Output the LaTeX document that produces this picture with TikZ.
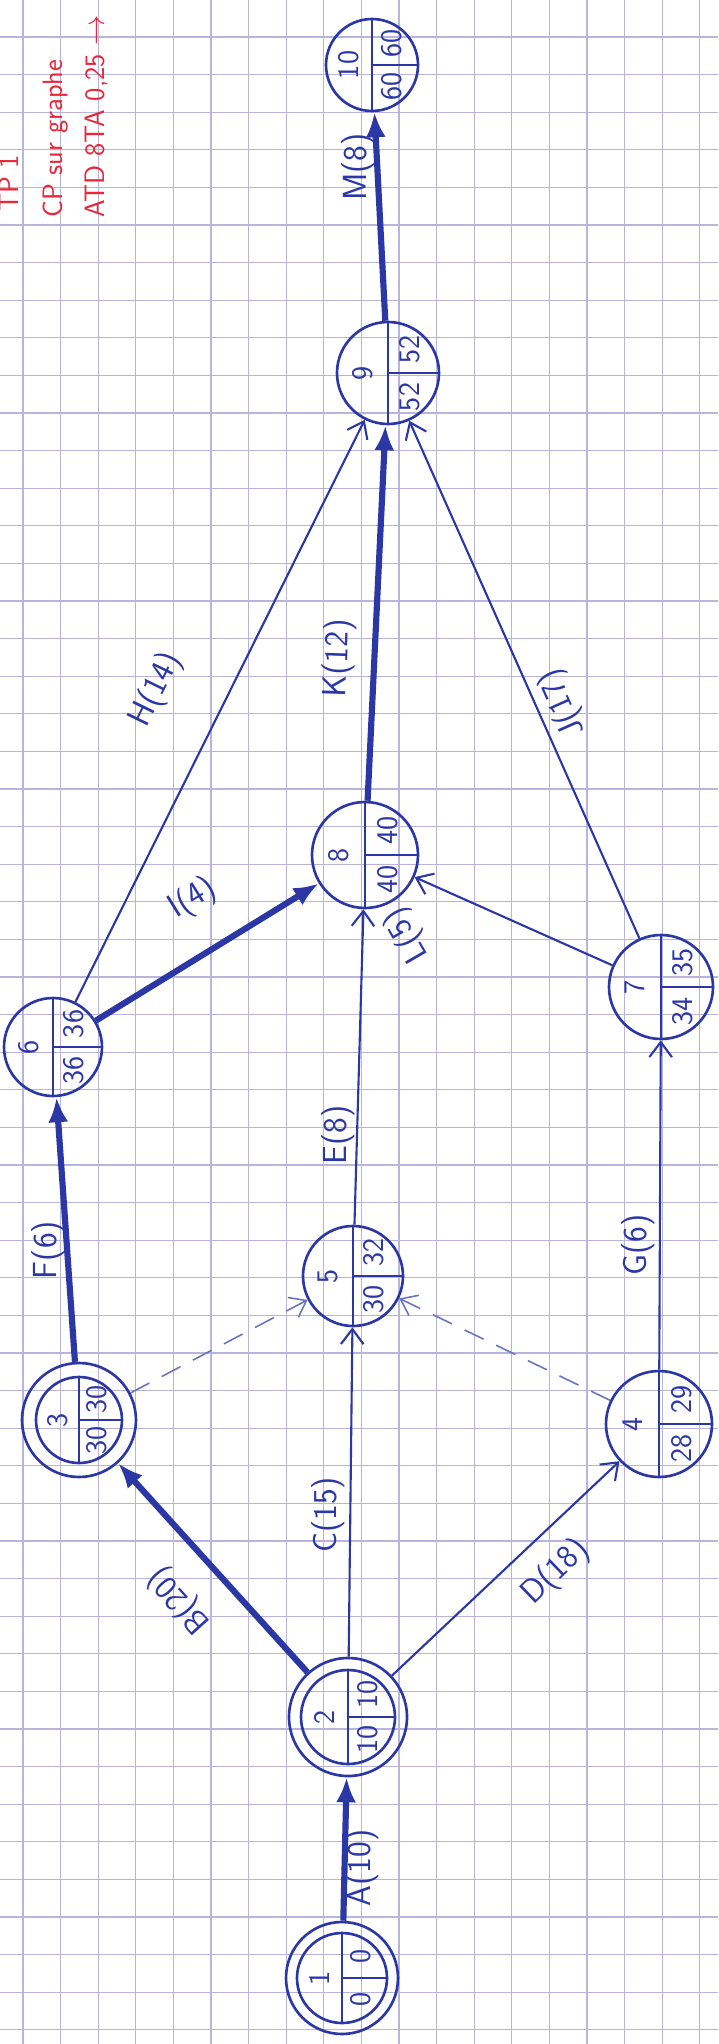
\documentclass[tikz,border=0pt]{standalone}
\usepackage{tikz}
\usetikzlibrary{arrows.meta,calc}
\definecolor{PenBlue}{HTML}{2C37A6}
\definecolor{PenRed}{HTML}{E8283A}
\definecolor{GridLilac}{HTML}{B8B4DC}

\begin{document}
\begin{tikzpicture}[x=0.2mm, y=-0.2mm,
  evt/.style={circle, draw=PenBlue, line width=1.5pt, inner sep=0pt},
  ring/.style={circle, draw=PenBlue, line width=1.5pt, inner sep=0pt},
  val/.style={text=PenBlue, rotate=90, font=\sffamily\fontsize{17}{17}\selectfont, inner sep=0pt},
  lbl/.style={text=PenBlue, font=\sffamily\fontsize{19}{19}\selectfont, inner sep=1pt},
  act/.style={-{Straight Barb[length=3mm,width=4.5mm]}, PenBlue, line width=1.2pt},
  crit/.style={-{Latex[length=5mm,width=4mm]}, PenBlue, line width=3.5pt},
  dum/.style={-{Straight Barb[length=3mm,width=4.5mm]}, PenBlue!70, line width=0.9pt, dash pattern=on 12pt off 8pt},
  note/.style={text=PenRed, rotate=90, anchor=west, font=\sffamily\fontsize{16}{16}\selectfont}
]
% paper
\fill[white] (0,0) rectangle (718,2044);
\useasboundingbox (0,0) rectangle (718,2044);
\foreach \i [evaluate=\i as \gx using 23+37.6*\i] in {0,...,18}
  \draw[GridLilac, line width=0.7pt] (\gx,0) -- (\gx,2044);
\foreach \i [evaluate=\i as \gy using 37+37.6*\i] in {0,...,53}
  \draw[GridLilac, line width=0.7pt] (0,\gy) -- (718,\gy);

% red notes
\node[note] (tp) at (9,218) {TP 1};
\node[note] (cp) at (56,224) {CP sur graphe};
\node[note] (atd) at (96,224) {ATD 8TA 0,25 $\to$};

% events: number / latest / earliest
\foreach \n/\x/\y/\r/\lf/\es in {1/342/1978/45/0/0, 2/348/1717/47/10/10, 3/79/1420/43/30/30,
    4/659/1424/53/29/28, 5/353/1276/50/32/30, 6/53/1047/49/36/36, 7/661/987/52/35/34,
    8/365/855/53/40/40, 9/388/373/51/52/52, 10/372/65/46/60/60} {
  \node[evt, minimum size=\r*0.4mm] (n\n) at (\x,\y) {};
  \draw[PenBlue, line width=1.5pt] (n\n.north) -- (n\n.south) (n\n.center) -- (n\n.east);
  \node[val] (n\n id) at ($(n\n)+(-0.5*\r,0)$) {\n};
  \node[val] (n\n lf) at ($(n\n)+(0.42*\r,-0.47*\r)$) {\lf};
  \node[val] (n\n es) at ($(n\n)+(0.42*\r,0.47*\r)$) {\es};
}
\node[ring, minimum size=22.4mm] (n1r) at (n1) {};
\node[ring, minimum size=23.6mm] (n2r) at (n2) {};
\node[ring, minimum size=22.8mm] (n3r) at (n3) {};

% activities
\draw[crit] (n1r) -- (n2r);
\draw[crit] (n2r) -- (n3r);
\draw[act] (n2r) -- (n5);
\draw[act] (n2r) -- (n4);
\draw[dum] (n3r) -- (n5);
\draw[dum] (n4) -- (n5);
\draw[crit] (n3r) -- (n6);
\draw[act] (n5) -- (n8);
\draw[act] (n4) -- (n7);
\draw[crit] (n6) -- (n8);
\draw[act] (n6) -- (n9);
\draw[act] (n7) -- (n8);
\draw[act] (n7) -- (n9);
\draw[crit] (n8) -- (n9);
\draw[crit] (n9) -- (n10);

% activity labels
\node[lbl, rotate=90] (lA) at (362,1868) {A(10)};
\node[lbl, rotate=132] (lB) at (180,1600) {B(20)};
\node[lbl, rotate=90] (lC) at (328,1515) {C(15)};
\node[lbl, rotate=44] (lD) at (556,1572) {D(18)};
\node[lbl, rotate=90] (lE) at (338,1135) {E(8)};
\node[lbl, rotate=90] (lF) at (48,1250) {F(6)};
\node[lbl, rotate=90] (lG) at (638,1245) {G(6)};
\node[lbl, rotate=64] (lH) at (156,690) {H(14)};
\node[lbl, rotate=32] (lI) at (193,899) {I(4)};
\node[lbl, rotate=114] (lJ) at (563,703) {J(17)};
\node[lbl, rotate=88] (lK) at (339,658) {K(12)};
\node[lbl, rotate=120] (lL) at (407,935) {L(5)};
\node[lbl, rotate=90] (lM) at (358,167) {M(8)};
\end{tikzpicture}
\end{document}
